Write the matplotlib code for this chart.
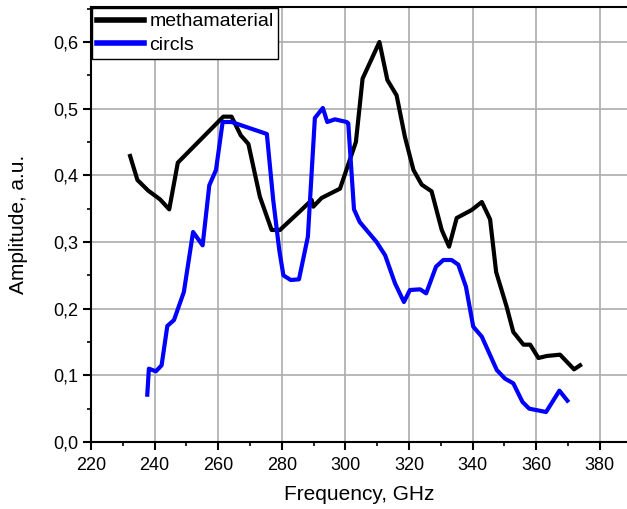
import matplotlib
matplotlib.use("Agg")
import matplotlib.pyplot as plt
from matplotlib.ticker import MultipleLocator, FuncFormatter

plt.rcParams['font.family'] = ['Liberation Sans', 'DejaVu Sans']

meta_x = [232.3, 234.6, 238.0, 241.7, 244.6, 247.3, 261.6, 264.2, 267.1, 269.5, 273.1,
          276.8, 279.4, 285.7, 289.4, 289.9, 292.5, 298.3, 303.3, 305.4, 310.7, 313.2,
          316.1, 318.7, 321.4, 324.0, 327.1, 330.3, 332.6, 335.0, 339.7, 342.9, 345.5,
          347.4, 350.7, 352.8, 356.0, 358.1, 360.7, 363.3, 367.5, 371.9, 373.8]
meta_y = [0.429, 0.393, 0.377, 0.364, 0.349, 0.419, 0.488, 0.488, 0.460, 0.447, 0.368,
          0.318, 0.318, 0.346, 0.363, 0.353, 0.366, 0.380, 0.450, 0.545, 0.600, 0.543,
          0.520, 0.458, 0.408, 0.386, 0.376, 0.318, 0.293, 0.336, 0.348, 0.360, 0.334,
          0.255, 0.203, 0.165, 0.146, 0.146, 0.126, 0.129, 0.131, 0.109, 0.115]

circ_x = [237.7, 238.2, 240.4, 242.2, 244.0, 246.1, 249.2, 252.1, 255.1, 257.2, 259.3,
          261.4, 264.2, 275.3, 277.3, 279.2, 280.5, 282.8, 285.4, 288.2, 290.4, 292.9,
          294.3, 296.7, 300.4, 300.9, 302.7, 304.5, 309.8, 312.5, 315.6, 318.4, 320.3,
          323.5, 325.4, 328.5, 330.8, 333.4, 335.5, 337.9, 340.2, 342.9, 347.6, 350.2,
          352.8, 355.7, 357.8, 363.1, 367.3, 369.8]
circ_y = [0.071, 0.110, 0.106, 0.115, 0.174, 0.183, 0.225, 0.315, 0.295, 0.385, 0.408,
          0.480, 0.480, 0.462, 0.363, 0.288, 0.250, 0.243, 0.244, 0.308, 0.486, 0.501,
          0.480, 0.484, 0.480, 0.478, 0.349, 0.330, 0.300, 0.280, 0.238, 0.210, 0.228,
          0.229, 0.223, 0.263, 0.273, 0.273, 0.266, 0.233, 0.173, 0.158, 0.108, 0.095,
          0.088, 0.060, 0.050, 0.045, 0.077, 0.062]

fig = plt.figure(figsize=(6.27, 5.09), dpi=100)
ax = fig.add_axes([91/627, 67/509, 536/627, 435/509])

ax.plot(meta_x, meta_y, color='black', lw=3, label='methamaterial', zorder=3)
ax.plot(circ_x, circ_y, color='#0000ff', lw=3, label='circls', zorder=3)

ax.set_xlim(220, 220 + 536/3.18)
ax.set_ylim(0, 0.6525)
ax.xaxis.set_major_locator(MultipleLocator(20))
ax.xaxis.set_minor_locator(MultipleLocator(10))
ax.yaxis.set_major_locator(MultipleLocator(0.1))
ax.yaxis.set_minor_locator(MultipleLocator(0.05))
ax.yaxis.set_major_formatter(FuncFormatter(lambda v, p: f"{v:.1f}".replace('.', ',')))

ax.grid(True, which='major', color='#ababab', lw=1.2)
ax.spines['right'].set_visible(False)
for s in ['left', 'bottom', 'top']:
    ax.spines[s].set_linewidth(1.5)
ax.tick_params(which='major', direction='out', length=6, width=1.5, labelsize=13)
ax.tick_params(which='minor', direction='out', length=3, width=1.2)
ax.tick_params(axis='x', which='major', pad=5)
ax.tick_params(axis='y', which='major', pad=3)

ax.set_xlabel('Frequency, GHz', fontsize=15)
ax.set_ylabel('Amplitude, a.u.', fontsize=15)
ax.xaxis.set_label_coords(0.5, -(495 - 442) / 435, transform=ax.transAxes)
ax.yaxis.set_label_coords(-(91 - 19) / 536, 0.5, transform=ax.transAxes)
ax.xaxis.label.set_va('center')
ax.yaxis.label.set_va('center')

leg = ax.legend(loc='upper left', fontsize=14, frameon=True, fancybox=False,
                borderaxespad=0.05, handlelength=2.4, handletextpad=0.3,
                borderpad=0.25, labelspacing=0.3)
leg.get_frame().set_edgecolor('black')
leg.get_frame().set_linewidth(1.0)
leg.get_frame().set_alpha(1)
for line in leg.get_lines():
    line.set_linewidth(4)

fig.savefig('out.png', dpi=100)
